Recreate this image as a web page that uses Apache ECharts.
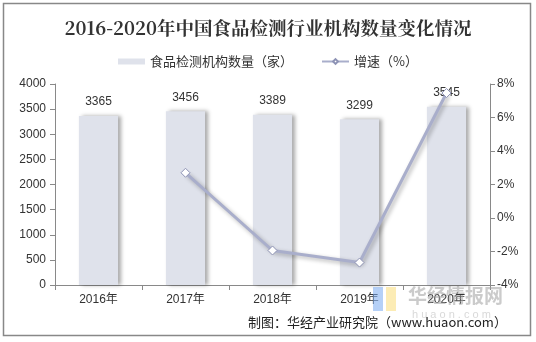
<!DOCTYPE html>
<html><head><meta charset="utf-8">
<script src="https://cdn.jsdelivr.net/npm/echarts@6/dist/echarts.min.js"></script>
<style>html,body{margin:0;padding:0;background:#fff}#c{width:536px;height:342px}</style>
</head><body><div id="c"></div>
<script>
const years = ['2016年','2017年','2018年','2019年','2020年'];
const counts = [3365, 3456, 3389, 3299, 3545];
const growth = [null, 2.70, -1.94, -2.66, 7.46];
const leftTicks = [0, 4000, 500];
const rightTicks = [-4, 8, 2];

const FONT = '"Liberation Sans", "Noto Sans CJK SC", sans-serif';
const chart = echarts.init(document.getElementById('c'), null, {renderer: 'canvas'});
chart.setOption({
  animation: false,
  backgroundColor: '#fff',
  title: {
    text: '2016-2020年中国食品检测行业机构数量变化情况',
    left: 'center', top: 14,
    textStyle: {fontFamily: '"Noto Serif CJK SC","Noto Sans CJK SC", serif', fontSize: 18.5, fontWeight: 'bold', color: '#333'}
  },
  legend: {
    top: 50, left: 'center', itemGap: 28, itemWidth: 27, itemHeight: 6,
    textStyle: {fontFamily: '"Noto Sans CJK SC", sans-serif', fontSize: 13, color: '#333'},
    data: [
      {name: '食品检测机构数量（家）', icon: 'rect'},
      {name: '增速（%）'}
    ]
  },
  grid: {left: 55, right: 46, top: 84, bottom: 57},
  xAxis: {
    type: 'category', data: years,
    axisLine: {lineStyle: {color: '#898989'}},
    axisTick: {show: true, alignWithLabel: false, length: 5, lineStyle: {color: '#898989'}},
    axisLabel: {color: '#333', fontSize: 12, fontFamily: FONT, margin: 9}
  },
  yAxis: [
    {
      type: 'value', min: leftTicks[0], max: leftTicks[1], interval: leftTicks[2],
      axisLine: {show: true, lineStyle: {color: '#898989'}},
      axisTick: {show: true, length: 5, lineStyle: {color: '#898989'}},
      splitLine: {show: false},
      axisLabel: {color: '#333', fontSize: 12, fontFamily: FONT, margin: 9, formatter: (v) => String(v)}
    },
    {
      type: 'value', position: 'right', min: rightTicks[0], max: rightTicks[1], interval: rightTicks[2],
      axisLine: {show: true, lineStyle: {color: '#898989'}},
      axisTick: {show: true, length: 5, lineStyle: {color: '#898989'}},
      splitLine: {show: false},
      axisLabel: {color: '#333', fontSize: 12, fontFamily: FONT, margin: 7, formatter: '{value}%'}
    }
  ],
  series: [
    {
      name: '食品检测机构数量（家）', type: 'bar', data: counts, barWidth: '45%',
      itemStyle: {color: '#dfe2eb', shadowColor: 'rgba(0,0,0,0.35)', shadowOffsetX: 3, shadowOffsetY: 0, shadowBlur: 4},
      label: {show: true, position: 'top', distance: 8, color: '#333', fontSize: 12, fontFamily: FONT}
    },
    {
      name: '增速（%）', type: 'line', yAxisIndex: 1, data: growth,
      symbol: 'diamond', symbolSize: 9,
      lineStyle: {color: '#a9aecb', width: 3, shadowColor: 'rgba(0,0,0,0.3)', shadowBlur: 4, shadowOffsetX: 2, shadowOffsetY: 2},
      itemStyle: {color: '#fff', borderColor: '#8e93b5', borderWidth: 1},
      z: 5
    }
  ],
  graphic: [
    {type: 'rect', shape: {x: 3.5, y: 3.5, width: 527, height: 332}, style: {fill: 'none', stroke: '#888', lineWidth: 1.5}, silent: true},
    {type: 'rect', shape: {x: 373, y: 287, width: 10, height: 24}, style: {fill: 'rgba(120,170,240,0.55)'}, z: 10},
    {type: 'rect', shape: {x: 386, y: 287, width: 10, height: 24}, style: {fill: 'rgba(250,220,120,0.55)'}, z: 10},
    {type: 'text', left: 408, top: 286, style: {text: '华经情报网', fill: 'rgba(160,160,160,0.55)', font: 'bold 19px "Noto Sans CJK SC"'}, z: 10},
    {type: 'text', left: 412, top: 309, style: {text: 'h u a o n . c o m', fill: 'rgba(180,180,180,0.5)', font: '11px "Liberation Sans"'}, z: 10},
    {type: 'text', left: 248, top: 316, style: {text: '制图：华经产业研究院（www.huaon.com）', fill: '#222', font: '13px "Noto Sans CJK SC"'}, z: 11}
  ]
});
</script></body></html>
